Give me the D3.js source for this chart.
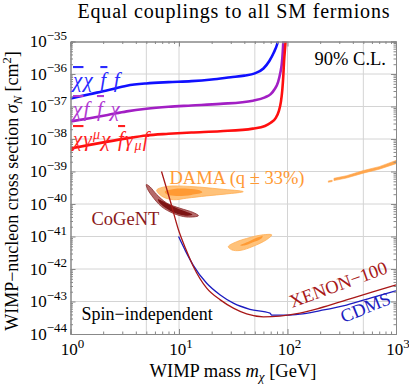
<!DOCTYPE html>
<html>
<head>
<meta charset="utf-8">
<script src="https://cdn.jsdelivr.net/npm/d3@7"></script>
<style>
  body { margin: 0; background: #fff; }
  svg text { font-family: "Liberation Serif", "Times New Roman", Times, serif; }
</style>
</head>
<body>
<div id="chart"></div>
<script>
// values: [WIMP mass in GeV, log10 of sigma in cm^2]
const scalarLimit = [[1,-36.75],[1.5,-36.62],[2.2,-36.5],[3.3,-36.36],[5,-36.29],[8,-36.25],[13,-36.22],[20,-36.17],[30,-36.1],[40,-36.05],[50,-35.98],[60,-35.83],[68,-35.6],[75,-35.33],[80,-35.1],[84,-34.8]];
const mixedLimit = [[1,-37.46],[1.5,-37.36],[2.2,-37.26],[3.3,-37.15],[5,-37.07],[8,-37.01],[13,-36.97],[24,-36.92],[48,-36.82],[62,-36.72],[70,-36.62],[76,-36.47],[82,-36.24],[86,-35.95],[88.5,-35.7],[90.5,-35.3],[91.5,-35.0],[92,-34.8]];
const vectorLimit = [[1,-38.29],[1.5,-38.18],[2.2,-38.08],[3.3,-37.98],[5,-37.89],[8,-37.84],[13,-37.8],[24,-37.76],[48,-37.68],[62,-37.6],[70,-37.5],[78,-37.35],[83,-37.15],[87,-36.85],[89.5,-36.5],[91.5,-36.05],[93,-35.6],[95,-35.2],[96,-35.0],[97,-34.8]];
const xenonLimit = [[6.9,-39.0],[8.3,-39.9],[9.9,-40.8],[11.6,-41.4],[13.6,-41.93],[18,-42.59],[24,-42.95],[32,-43.21],[42,-43.38],[60,-43.47],[85,-43.45],[130,-43.36],[200,-43.2],[350,-42.95],[600,-42.71],[1000,-42.49]];
const cdmsLimit = [[9.9,-41.0],[11.5,-41.45],[13.5,-41.88],[18,-42.44],[24,-42.8],[32,-43.06],[45,-43.24],[69,-43.36],[71.5,-43.42],[98,-43.42],[130,-43.39],[200,-43.28],[350,-43.11],[600,-42.88],[1000,-42.67]];

const cogentOuter = [[5.0,-39.40],[5.4,-39.47],[6.2,-39.70],[7.7,-39.97],[10.2,-40.13],[13.5,-40.26],[15.1,-40.36],[11.8,-40.40],[8.9,-40.29],[6.9,-40.08],[5.6,-39.74],[5.1,-39.52]];
const cogentInner = [[6.4,-39.86],[7.6,-39.97],[9.5,-40.12],[12,-40.25],[13.3,-40.32],[11.5,-40.36],[9.2,-40.28],[7.6,-40.13],[6.6,-39.96]];
const damaLowOuter = [[6.23,-39.57],[7.7,-39.46],[12.6,-39.46],[23.9,-39.54],[39.1,-39.62],[27.5,-39.69],[18,-39.75],[11.8,-39.82],[8.9,-39.87],[7.2,-39.79],[6.45,-39.67]];
const damaLowInner = [[7.4,-39.62],[9,-39.54],[12,-39.53],[15.5,-39.58],[16.4,-39.64],[13,-39.72],[9.5,-39.75],[7.8,-39.71]];
const damaHighOuter = [[28.5,-41.31],[34,-41.16],[42,-41.06],[56,-40.96],[71.5,-40.95],[64,-41.10],[48.4,-41.30],[36.5,-41.43],[30.6,-41.41]];
const damaHighInner = [[36.5,-41.27],[44,-41.15],[52,-41.04],[59,-40.99],[57,-41.07],[48,-41.18],[40,-41.28]];
const damaStreak = [[268,-39.21],[350,-39.13],[500,-38.97],[700,-38.85],[1000,-38.66],[1000,-38.76],[700,-38.93],[500,-39.05],[350,-39.2],[268,-39.28]];
const damaDash = [[238,-39.29],[258,-39.27],[258,-39.31],[238,-39.33]];

const xMajor = [1, 10, 100, 1000];
const yMajorExp = [-44, -43, -42, -41, -40, -39, -38, -37, -36, -35];
const xGrid = [5, 10, 50, 100, 500];
const yGridExp = [-43, -42, -41, -40, -39, -38, -37, -36];

const width = 409, height = 387;
const pLeft = 70.5, pRight = 396, pTop = 41.5, pBottom = 334;

const svg = d3.select("#chart").append("svg")
  .attr("width", width).attr("height", height)
  .attr("font-family", "Liberation Serif, Times New Roman, serif");

const x = d3.scaleLog().domain([1, 1000]).range([pLeft, pRight]);
const y = d3.scaleLog().domain([1e-44, 1e-35]).range([pBottom, pTop]);
const sy = e => y(Math.pow(10, e));

svg.append("defs").append("clipPath").attr("id", "plot")
  .append("rect").attr("x", pLeft).attr("y", pTop)
  .attr("width", pRight - pLeft).attr("height", pBottom - pTop);

// grid
svg.append("g").selectAll("line").data(xGrid).join("line")
  .attr("x1", d => x(d)).attr("x2", d => x(d))
  .attr("y1", pTop).attr("y2", pBottom)
  .attr("stroke", "#d4d4d4").attr("stroke-width", 1);
svg.append("g").selectAll("line").data(yGridExp).join("line")
  .attr("x1", pLeft).attr("x2", pRight)
  .attr("y1", d => sy(d)).attr("y2", d => sy(d))
  .attr("stroke", "#d4d4d4").attr("stroke-width", 1);

const plot = svg.append("g").attr("clip-path", "url(#plot)");

const closed = d3.line().x(d => x(d[0])).y(d => sy(d[1]))
  .curve(d3.curveCatmullRomClosed.alpha(0.5));
const poly = d3.line().x(d => x(d[0])).y(d => sy(d[1])).curve(d3.curveLinearClosed);
const open = d3.line().x(d => x(d[0])).y(d => sy(d[1])).curve(d3.curveMonotoneX);

// DAMA regions
[damaLowOuter, damaHighOuter].forEach(c => {
  plot.append("path").attr("d", closed(c))
    .attr("fill", "#ffc27a").attr("stroke", "#ffae55").attr("stroke-width", 0.8);
});
[damaLowInner, damaHighInner].forEach(c => {
  plot.append("path").attr("d", closed(c)).attr("fill", "#ff9a33");
});
[damaStreak, damaDash].forEach(c => {
  plot.append("path").attr("d", poly(c)).attr("fill", "#ffa64d").attr("stroke", "#ffa64d").attr("stroke-width", 0.6);
});

// CoGeNT
plot.append("path").attr("d", closed(cogentOuter))
  .attr("fill", "#a85050").attr("fill-opacity", 0.85)
  .attr("stroke", "#8a2a2a").attr("stroke-width", 0.8);
plot.append("path").attr("d", closed(cogentInner)).attr("fill", "#7d1414");

// experimental limits
plot.append("path").attr("d", open(cdmsLimit))
  .attr("fill", "none").attr("stroke", "#1c1cc0").attr("stroke-width", 1.3);
plot.append("path").attr("d", open(xenonLimit))
  .attr("fill", "none").attr("stroke", "#a81818").attr("stroke-width", 1.3);

// operator bounds
const bounds = [
  { data: scalarLimit, color: "#1010ff" },
  { data: mixedLimit, color: "#a21fc4" },
  { data: vectorLimit, color: "#ff0f0f" }
];
bounds.forEach(b => {
  plot.append("path").attr("d", open(b.data))
    .attr("fill", "none").attr("stroke", b.color).attr("stroke-width", 2.6);
});

// frame with ticks inside
const frame = "#888";
const xMinor = x.ticks().filter(t => !xMajor.includes(t));
const yMinor = y.ticks().filter(t => Math.abs(Math.log10(t) - Math.round(Math.log10(t))) > 1e-6);
const yMajor = yMajorExp.map(e => Math.pow(10, e));

function frameAxis(axis, tx, ty, vals, size) {
  const g = svg.append("g").attr("transform", `translate(${tx},${ty})`)
    .call(axis.tickValues(vals).tickSize(size).tickFormat(""));
  g.selectAll("line").attr("stroke", frame);
  g.select(".domain").attr("stroke", frame);
}
frameAxis(d3.axisBottom(x), 0, pBottom, xMajor, -5);
frameAxis(d3.axisBottom(x), 0, pBottom, xMinor, -2.5);
frameAxis(d3.axisTop(x), 0, pTop, xMajor, -5);
frameAxis(d3.axisTop(x), 0, pTop, xMinor, -2.5);
frameAxis(d3.axisLeft(y), pLeft, 0, yMajor, -5);
frameAxis(d3.axisLeft(y), pLeft, 0, yMinor, -2.5);
frameAxis(d3.axisRight(y), pRight, 0, yMajor, -5);
frameAxis(d3.axisRight(y), pRight, 0, yMinor, -2.5);

// tick labels
const yl = svg.append("g").selectAll("text").data(yMajorExp).join("text")
  .attr("x", 67).attr("y", d => sy(d) + 5.5)
  .attr("text-anchor", "end").attr("font-size", 17);
yl.append("tspan").text("10");
yl.append("tspan").attr("dy", -7.5).attr("font-size", 13).text(d => "\u2212" + (-d));

const xl = svg.append("g").selectAll("text").data(xMajor).join("text")
  .attr("x", d => x(d) + 2).attr("y", 355)
  .attr("text-anchor", "middle").attr("font-size", 17);
xl.append("tspan").text("10");
xl.append("tspan").attr("dy", -7.5).attr("font-size", 13).text(d => Math.round(Math.log10(d)));

// titles
svg.append("text").attr("x", 233.5).attr("y", 18).attr("text-anchor", "middle")
  .attr("font-size", 20).attr("textLength", 312).attr("lengthAdjust", "spacing")
  .text("Equal couplings to all SM fermions");

const xt = svg.append("text").attr("x", 233).attr("y", 377)
  .attr("text-anchor", "middle").attr("font-size", 18.5);
xt.append("tspan").text("WIMP mass ");
xt.append("tspan").attr("font-style", "italic").text("m");
xt.append("tspan").attr("font-style", "italic").attr("font-size", 13).attr("dy", 4).text("\u03c7");
xt.append("tspan").attr("dy", -4).text(" [GeV]");

const yt = svg.append("text").attr("transform", "translate(18,191) rotate(-90)")
  .attr("text-anchor", "middle").attr("font-size", 18);
yt.append("tspan").text("WIMP\u2212nucleon cross section ");
yt.append("tspan").attr("font-style", "italic").text("\u03c3");
yt.append("tspan").attr("font-style", "italic").attr("font-size", 12.5).attr("dy", 4).text("N");
yt.append("tspan").attr("dy", -4).text(" [cm");
yt.append("tspan").attr("font-size", 12.5).attr("dy", -7).text("2");
yt.append("tspan").attr("dy", 7).text("]");

// operator labels
function opLabel(parts, yy, color) {
  const t = svg.append("text").attr("x", 73).attr("y", yy)
    .attr("font-size", 21).attr("font-style", "italic")
    .attr("letter-spacing", 1.2).attr("fill", color);
  parts.forEach(p => {
    const s = t.append("tspan").text(p.t);
    if (p.bar) s.style("text-decoration", "overline");
    if (p.sup) s.attr("dy", -7).attr("font-size", 14);
    if (p.sub) s.attr("dy", 4).attr("font-size", 14);
    if (p.back) s.attr("dy", p.back);
  });
}
opLabel([{ t: "\u03c7", bar: true }, { t: "\u03c7 " }, { t: "f", bar: true }, { t: " f" }], 87, "#2a2aff");
opLabel([{ t: "\u03c7", bar: true }, { t: "f " }, { t: "f", bar: true }, { t: " \u03c7" }], 116, "#b03ad2");
opLabel([{ t: "\u03c7", bar: true }, { t: "\u03b3" }, { t: "\u03bc", sup: true }, { t: "\u03c7 ", back: 7 },
         { t: "f", bar: true }, { t: "\u03b3" }, { t: "\u03bc", sub: true }, { t: "f", back: -4 }], 146, "#ff1f1f");

// annotations
svg.append("text").attr("x", 386).attr("y", 65).attr("text-anchor", "end")
  .attr("font-size", 18.5).text("90% C.L.");
svg.append("text").attr("x", 169.5).attr("y", 183.5)
  .attr("font-size", 18.5).attr("fill", "#ff9933").text("DAMA (q \u00b1 33%)");
svg.append("text").attr("x", 91.5).attr("y", 225)
  .attr("font-size", 18.5).attr("fill", "#8b1a1a").text("CoGeNT");
svg.append("text").attr("x", 81.5).attr("y", 320)
  .attr("font-size", 18).text("Spin\u2212independent");
svg.append("text").attr("transform", "translate(292,308) rotate(-20)")
  .attr("font-size", 18.5).attr("fill", "#a81818").text("XENON\u2212100");
svg.append("text").attr("transform", "translate(343.5,323) rotate(-22)")
  .attr("font-size", 18.5).attr("fill", "#1c1cc0").text("CDMS");
</script>
</body>
</html>
